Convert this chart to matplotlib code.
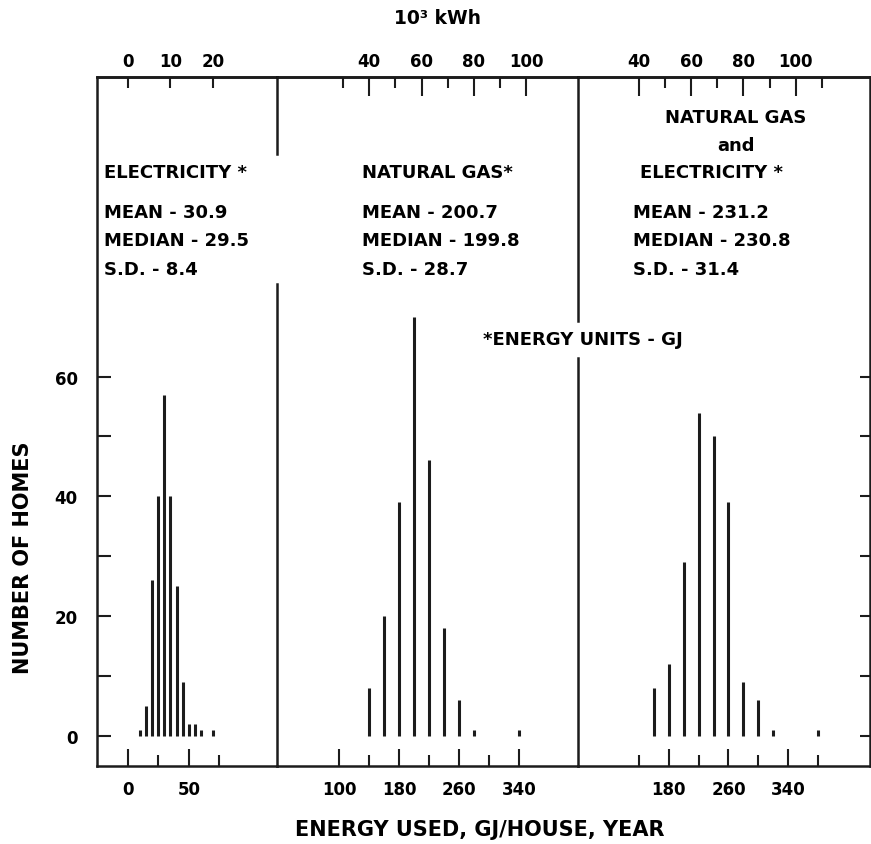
import matplotlib.pyplot as plt

# number of homes per energy bin (GJ / house / year)
elec_gj = [10, 15, 20, 25, 30, 35, 40, 45, 50, 55, 60, 70]
elec_homes = [1, 5, 26, 40, 57, 40, 25, 9, 2, 2, 1, 1]

gas_gj = [140, 160, 180, 200, 220, 240, 260, 280, 340]
gas_homes = [8, 20, 39, 70, 46, 18, 6, 1, 1]

both_gj = [160, 180, 200, 220, 240, 260, 280, 300, 320, 380]
both_homes = [8, 12, 29, 54, 50, 39, 9, 6, 1, 1]

# summary statistics (GJ)
elec_stats = ['MEAN - 30.9', 'MEDIAN - 29.5', 'S.D. - 8.4']
gas_stats = ['MEAN - 200.7', 'MEDIAN - 199.8', 'S.D. - 28.7']
both_stats = ['MEAN - 231.2', 'MEDIAN - 230.8', 'S.D. - 31.4']

# axis ticks
bottom_major = [[0, 50], [100, 180, 260, 340], [180, 260, 340]]
bottom_minor = [[25, 75], [140, 220, 300], [140, 220, 300, 380]]
top_major = [[0, 10, 20], [40, 60, 80, 100], [40, 60, 80, 100]]
top_minor = [[], [30, 50, 70, 90], [50, 70, 90, 110]]
y_ticks = [0, 10, 20, 30, 40, 50, 60]
y_labels = ['0', '', '20', '', '40', '', '60']

GJ_PER_MWH = 3.5  # as drawn on the original top scale

W, H = 871, 845
INK = '#1c1c1c'


def px(x, y):
    return x / W, 1 - y / H


plt.rcParams['font.family'] = ['DejaVu Sans']
plt.rcParams['font.weight'] = 'bold'

fig = plt.figure(figsize=(W / 100, H / 100), dpi=100)

edges = [97, 277, 578, 870]
bottom, top = 767, 78
xlims = [(-25, 122), (17, 419), (59, 449)]
series = [(elec_gj, elec_homes), (gas_gj, gas_homes), (both_gj, both_homes)]

axes = []
for i in range(3):
    l, b = px(edges[i], bottom)
    r, t = px(edges[i + 1], top)
    ax = fig.add_axes([l, b, r - l, t - b])
    ax.set_facecolor('none')
    xs, ys = series[i]
    ax.vlines(xs, 0, ys, colors=INK, linewidth=2.2)
    ax.set_xlim(*xlims[i])
    ax.set_ylim(-5, 110)

    for s in ax.spines.values():
        s.set_linewidth(1.8)
        s.set_color(INK)
    if i > 0:
        ax.spines['left'].set_visible(False)
    if i < 2:
        ax.spines['right'].set_visible(False)

    ax.set_xticks(bottom_major[i])
    ax.set_xticks(bottom_minor[i], minor=True)
    ax.tick_params(axis='x', which='both', direction='in', width=1.5,
                   color=INK, labelsize=12, pad=10)
    ax.tick_params(axis='x', which='major', length=12)
    ax.tick_params(axis='x', which='minor', length=8)

    ax.set_yticks(y_ticks)
    if i == 0:
        ax.set_yticklabels(y_labels)
        ax.tick_params(axis='y', direction='in', length=10, width=1.5,
                       color=INK, labelsize=12, pad=14)
    elif i == 2:
        ax.yaxis.tick_right()
        ax.tick_params(axis='y', direction='in', length=7, width=1.5,
                       color=INK, labelright=False)
    else:
        ax.tick_params(axis='y', left=False, labelleft=False)

    sec = ax.secondary_xaxis('top', functions=(lambda g: g / GJ_PER_MWH,
                                               lambda m: m * GJ_PER_MWH))
    sec.set_xticks(top_major[i])
    sec.set_xticks(top_minor[i], minor=True)
    sec.tick_params(axis='x', which='both', direction='in', width=1.5,
                    color=INK, labelsize=12, pad=5)
    sec.tick_params(axis='x', which='major', length=8 if i == 0 else 14)
    sec.tick_params(axis='x', which='minor', length=8)
    sec.spines['top'].set_linewidth(1.8)
    axes.append(ax)

# panel dividers, broken where the headings cross them
ax1, ax2, ax3 = axes
for y0, y1 in [(0.0, 0.70), (0.888, 1.0)]:
    ax1.axvline(xlims[0][1], ymin=y0, ymax=y1, color=INK, linewidth=1.8, clip_on=False)
for y0, y1 in [(0.0, 0.592), (0.646, 1.0)]:
    ax2.axvline(xlims[1][1], ymin=y0, ymax=y1, color=INK, linewidth=1.8, clip_on=False)

fs = 13
fig.text(*px(104, 173), 'ELECTRICITY *', fontsize=fs, va='center', ha='left')
fig.text(*px(362, 173), 'NATURAL GAS*', fontsize=fs, va='center', ha='left')
fig.text(*px(736, 118), 'NATURAL GAS', fontsize=fs, va='center', ha='center')
fig.text(*px(736, 146), 'and', fontsize=fs, va='center', ha='center')
fig.text(*px(640, 173), 'ELECTRICITY *', fontsize=fs, va='center', ha='left')

for x0, lines in [(104, elec_stats), (362, gas_stats), (633, both_stats)]:
    for k, line in enumerate(lines):
        fig.text(*px(x0, 213 + 28.5 * k), line, fontsize=fs, va='center', ha='left')

fig.text(*px(483, 340), '*ENERGY UNITS - GJ', fontsize=fs, va='center', ha='left')

fig.text(*px(437, 18), '10³ kWh', fontsize=13.5, va='center', ha='center')
fig.text(*px(480, 830), 'ENERGY USED, GJ/HOUSE, YEAR', fontsize=15,
         va='center', ha='center')
fig.text(*px(23, 558), 'NUMBER OF HOMES', fontsize=15, va='center',
         ha='center', rotation=90)

fig.savefig('out.png', dpi=100)
